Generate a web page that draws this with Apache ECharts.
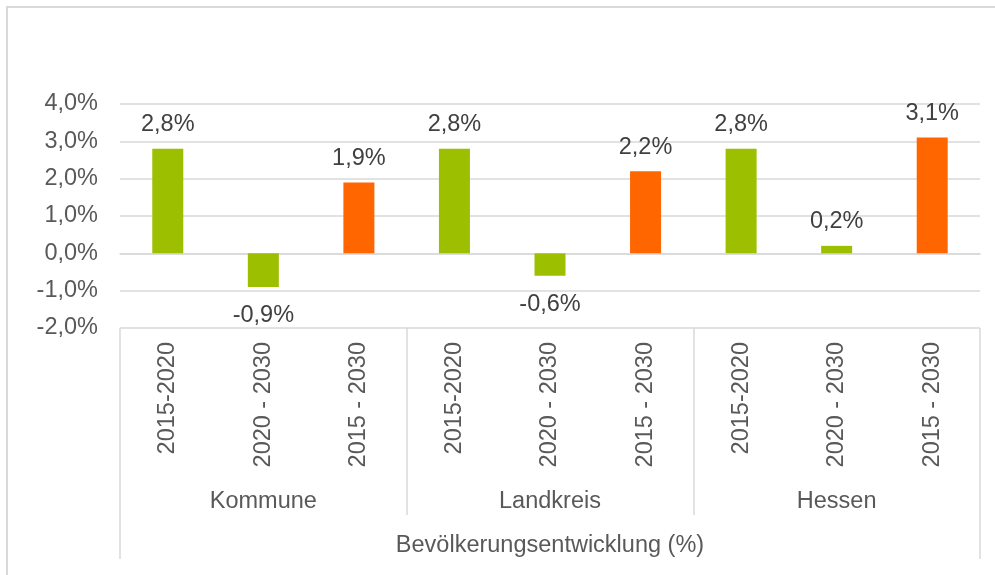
<!DOCTYPE html>
<html>
<head>
<meta charset="utf-8">
<script src="https://cdn.jsdelivr.net/npm/echarts@6/dist/echarts.min.js"></script>
<style>
  html, body { margin: 0; padding: 0; background: #fff; overflow: hidden; }
  #frame { position: absolute; left: 6px; top: 6px; width: 1020px; height: 600px; border: 2px solid #d9d9d9; }
  #main { position: absolute; left: 0; top: 0; width: 995px; height: 575px; }
</style>
</head>
<body>
<div id="frame"></div>
<div id="main"></div>
<script>
// Zeiträume je Gruppe
const periods = ['2015-2020', '2020 - 2030', '2015 - 2030',
                 '2015-2020', '2020 - 2030', '2015 - 2030',
                 '2015-2020', '2020 - 2030', '2015 - 2030'];
const groups = ['Kommune', 'Landkreis', 'Hessen'];
const axisTitle = ['Bevölkerungsentwicklung (%)'];
// Veränderung in %
const values = [2.8, -0.9, 1.9, 2.8, -0.6, 2.2, 2.8, 0.2, 3.1];

const GREEN = '#9cbf00';
const ORANGE = '#ff6600';
const FONT = '"Liberation Sans", Arial, sans-serif';
const FS = 23.5;
const LINE = '#d9d9d9';

const fmt = v => v.toFixed(1).replace('.', ',') + '%';

const chart = echarts.init(document.getElementById('main'), null, { renderer: 'canvas' });

const option = {
  animation: false,
  textStyle: { fontFamily: FONT },
  grid: { left: 120, right: 15, top: 104, bottom: 247, containLabel: false },
  xAxis: [
    {
      type: 'category',
      data: periods,
      position: 'bottom',
      axisLine: { show: true, lineStyle: { color: LINE, width: 1.5 } },
      axisTick: { show: false },
      axisLabel: {
        interval: 0,
        rotate: 90,
        margin: 14,
        fontSize: FS,
        color: '#595959',
        fontFamily: FONT
      }
    },
    {
      type: 'category',
      data: groups,
      position: 'bottom',
      axisLine: { show: false },
      axisTick: { show: true, interval: 0, length: 187, lineStyle: { color: LINE, width: 1.5 } },
      axisLabel: { interval: 0, margin: 162, fontSize: FS, color: '#595959', fontFamily: FONT }
    },
    {
      type: 'category',
      data: axisTitle,
      position: 'bottom',
      axisLine: { show: false },
      axisTick: { show: true, interval: 0, length: 231, lineStyle: { color: LINE, width: 1.5 } },
      axisLabel: { interval: 0, margin: 206, fontSize: FS, color: '#595959', fontFamily: FONT }
    }
  ],
  yAxis: {
    type: 'value',
    min: -2,
    max: 4,
    interval: 1,
    axisLine: { show: false },
    axisTick: { show: false },
    splitLine: { lineStyle: { color: LINE, width: 1.5 } },
    axisLabel: {
      margin: 22,
      fontSize: FS,
      color: '#595959',
      fontFamily: FONT,
      formatter: v => fmt(v)
    }
  },
  series: [{
    type: 'bar',
    xAxisIndex: 0,
    barWidth: 31,
    itemStyle: {
      color: p => (p.dataIndex % 3 === 2 ? ORANGE : GREEN)
    },
    label: {
      show: true,
      position: 'top',
      distance: 12,
      fontSize: FS,
      color: '#404040',
      fontFamily: FONT,
      formatter: p => fmt(p.value)
    },
    data: values.map(v => v < 0
      ? { value: v, label: { position: 'bottom', distance: 17 } }
      : { value: v })
  }]
};

chart.setOption(option);
</script>
</body>
</html>
